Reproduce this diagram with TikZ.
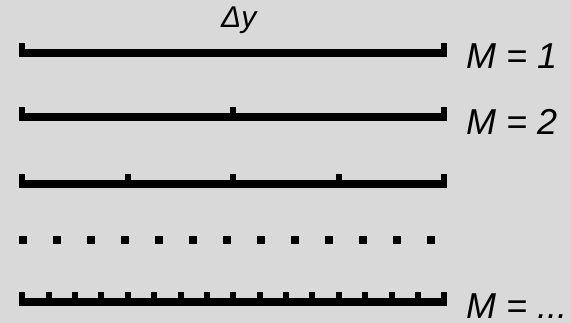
\documentclass[tikz,border=0pt]{standalone}
\usepackage{fontspec}
\setmainfont{Liberation Sans}
\definecolor{bggray}{RGB}{217,217,217}
\tikzset{
  lbl/.style={inner sep=0pt, anchor=base west, font=\fontsize{36}{40}\selectfont\itshape},
  toplbl/.style={inner sep=0pt, anchor=base west, font=\fontsize{30}{34}\selectfont\itshape}
}
% #1 = top y of bar, #2 = number of intervals
\newcommand{\rulerbar}[2]{%
  \fill[black] (19.3,#1) rectangle (447.3,#1+8);
  \foreach \i in {0,...,#2} {
    \pgfmathsetmacro{\cx}{22.3+\i*422/#2}
    \fill[black] (\cx-3,#1-6) rectangle (\cx+3,#1);
  }
}
\begin{document}
\begin{tikzpicture}[x=1pt,y=-1pt]
  \fill[bggray] (0,0) rectangle (571,323);
  \useasboundingbox (0,0) rectangle (571,323);
  % bars
  \rulerbar{48.7}{1}
  \rulerbar{113.5}{2}
  \rulerbar{180.2}{4}
  \rulerbar{298.5}{16}
  % dotted row
  \foreach \k in {0,...,12} {
    \fill[black] (19.3+\k*34,236.5) rectangle (27.3+\k*34,244.5);
  }
  % labels
  \node[toplbl] (dy) at (221,28) {Δy};
  \node[lbl] (m1) at (466,69) {M = 1};
  \node[lbl] (m2) at (466,135) {M = 2};
  \node[lbl] (mn) at (466,318.3) {M = ...};
\end{tikzpicture}
\end{document}
